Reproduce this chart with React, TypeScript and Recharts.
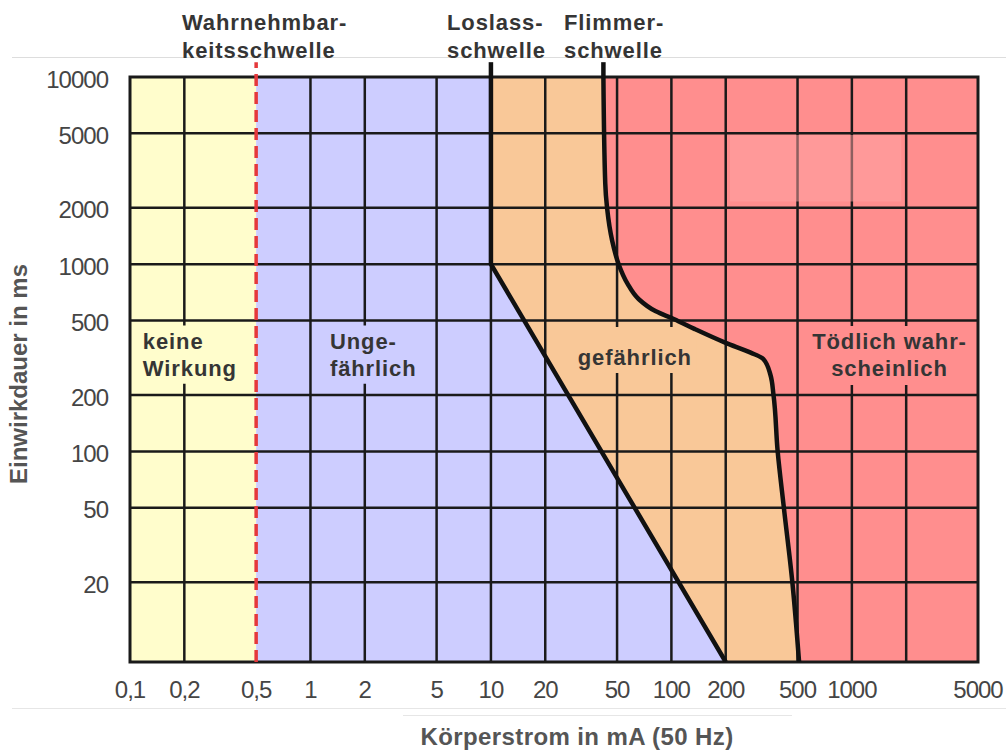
import { Area, ComposedChart, Line, ReferenceArea, ReferenceLine, XAxis, YAxis } from 'recharts';

const X_MIN = 0.1;
const X_MAX = 5000;
const Y_MIN = 7.5;
const Y_MAX = 10000;
// the threshold lines poke out a little above the plot
const Y_STUB = 12000;

const X_TICKS = [0.1, 0.2, 0.5, 1, 2, 5, 10, 20, 50, 100, 200, 500, 1000, 5000];
const Y_TICKS = [20, 50, 100, 200, 500, 1000, 2000, 5000, 10000];
const GRID_X = [0.2, 1, 2, 5, 10, 20, 50, 100, 200, 500, 1000, 2000];
const GRID_Y = [20, 50, 100, 200, 500, 1000, 2000, 5000];

// Wahrnehmbarkeitsschwelle (mA)
const PERCEPTION_MA = 0.5;

// Loslassschwelle
const LET_GO_MA = [10, 10, 200];
const LET_GO_MS = [10000, 1000, Y_MIN];

// Flimmerschwelle
const FIBRILLATION_MA = [42, 43, 44, 47, 51, 57, 66, 82, 103, 135, 200, 275, 323, 354, 368, 388, 420, 468, 510];
const FIBRILLATION_MS = [10000, 2700, 2000, 1330, 1000, 790, 650, 560, 510, 450, 380, 337, 312, 256, 200, 100, 50, 20, Y_MIN];

const letGo = LET_GO_MA.map((ma, i) => ({ ma, ms: LET_GO_MS[i] }));
const fibrillation = FIBRILLATION_MA.map((ma, i) => ({ ma, ms: FIBRILLATION_MS[i] }));

const FONT = '"Liberation Sans", Arial, Helvetica, sans-serif';
const YELLOW = '#FFFDCC';
const BLUE = '#CDCDFF';
const ORANGE = '#F9C898';
const RED = '#FF8E8E';
const INK = '#1a1a1a';

const labelStyle = { fontFamily: FONT, fontSize: 22, fontWeight: 700, fill: '#353535', letterSpacing: 0.9 };

const boxLabel = (lines: string[], anchor: 'start' | 'middle', dx: number, dy: number) => (props: any) => {
	const { x, y, width } = props.viewBox;
	const tx = anchor === 'middle' ? x + width / 2 : x + dx;
	return (
		<text x={tx} y={y + dy} textAnchor={anchor} style={labelStyle}>
			{lines.map((line, i) => (
				<tspan key={line} x={tx} dy={i === 0 ? 0 : 27}>
					{line}
				</tspan>
			))}
		</text>
	);
};

const tickStyle = { fill: '#454545', fontSize: 24, fontFamily: FONT, letterSpacing: -1 };

export default function App() {
	return (
		<div style={{ position: 'relative', width: 1006, height: 753, background: '#fff' }}>
			<style>{'body{margin:0}'}</style>
			<ComposedChart layout="vertical" width={1006} height={753} margin={{ top: 77, right: 28, bottom: 31, left: 20 }}>
				<XAxis
					type="number"
					scale="log"
					domain={[X_MIN, X_MAX]}
					allowDataOverflow
					ticks={X_TICKS}
					interval={0}
					tickFormatter={(v) => String(v).replace('.', ',')}
					axisLine={false}
					tickLine={false}
					tickSize={0}
					tickMargin={19}
					height={60}
					tick={tickStyle}
				/>
				<YAxis
					type="number"
					dataKey="ms"
					scale="log"
					domain={[Y_MIN, Y_MAX]}
					allowDataOverflow
					reversed
					ticks={Y_TICKS}
					interval={0}
					axisLine={false}
					tickLine={false}
					tickSize={0}
					tickMargin={22}
					width={110}
					tick={{ ...tickStyle, dy: 2 }}
				/>

				{/* zones */}
				<ReferenceArea x1={X_MIN} x2={PERCEPTION_MA} y1={Y_MIN} y2={Y_MAX} fill={YELLOW} fillOpacity={1} zIndex={10} />
				<ReferenceArea x1={PERCEPTION_MA} x2={X_MAX} y1={Y_MIN} y2={Y_MAX} fill={BLUE} fillOpacity={1} zIndex={10} />
				<Area
					data={letGo}
					dataKey={(d: any) => [d.ma, X_MAX]}
					type="linear"
					fill={ORANGE}
					fillOpacity={1}
					stroke="none"
					dot={false}
					activeDot={false}
					isAnimationActive={false}
					zIndex={20}
				/>
				<Area
					data={fibrillation}
					dataKey={(d: any) => [d.ma, X_MAX]}
					type="monotone"
					fill={RED}
					fillOpacity={1}
					stroke="none"
					dot={false}
					activeDot={false}
					isAnimationActive={false}
					zIndex={20}
				/>

				{/* grid */}
				{GRID_X.map((v) => (
					<ReferenceLine key={`gx${v}`} x={v} stroke={INK} strokeWidth={2.5} zIndex={30} />
				))}
				{GRID_Y.map((v) => (
					<ReferenceLine key={`gy${v}`} y={v} stroke={INK} strokeWidth={2.5} zIndex={30} />
				))}

				{/* zone labels on their own patches */}
				<ReferenceArea x1={0.105} x2={0.47} y1={230} y2={470} fill={YELLOW} fillOpacity={1} zIndex={40} label={boxLabel(['keine', 'Wirkung'], 'start', 9, 23)} />
				<ReferenceArea x1={1.1} x2={4.7} y1={230} y2={470} fill={BLUE} fillOpacity={1} zIndex={40} label={boxLabel(['Unge-', 'fährlich'], 'start', 12, 23)} />
				<ReferenceArea x1={28.5} x2={138} y1={262} y2={462} fill={ORANGE} fillOpacity={1} zIndex={40} label={boxLabel(['gefährlich'], 'middle', 0, 38)} />
				<ReferenceArea x1={557} x2={4690} y1={226} y2={468} fill={RED} fillOpacity={1} zIndex={40} label={boxLabel(['Tödlich wahr-', 'scheinlich'], 'middle', 0, 23)} />
				<ReferenceArea x1={211} x2={1880} y1={2160} y2={4900} fill="#FFA3A3" fillOpacity={0.5} zIndex={45} />

				<ReferenceArea x1={X_MIN} x2={X_MAX} y1={Y_MIN} y2={Y_MAX} fill="none" stroke={INK} strokeWidth={3} zIndex={50} />

				{/* thresholds */}
				<ReferenceLine
					segment={[{ x: PERCEPTION_MA, y: Y_MIN }, { x: PERCEPTION_MA, y: Y_STUB }]}
					stroke="#E5383B"
					strokeWidth={3.5}
					strokeDasharray="12 6"
					ifOverflow="visible"
					zIndex={60}
				/>
				<ReferenceLine segment={[{ x: LET_GO_MA[0], y: Y_MAX }, { x: LET_GO_MA[0], y: Y_STUB }]} stroke="#111" strokeWidth={4.5} ifOverflow="visible" zIndex={60} />
				<ReferenceLine segment={[{ x: FIBRILLATION_MA[0], y: Y_MAX }, { x: FIBRILLATION_MA[0], y: Y_STUB }]} stroke="#111" strokeWidth={4.5} ifOverflow="visible" zIndex={60} />
				<Line data={letGo} dataKey="ma" type="linear" stroke="#111" strokeWidth={4.5} dot={false} activeDot={false} isAnimationActive={false} zIndex={60} />
				<Line data={fibrillation} dataKey="ma" type="monotone" stroke="#111" strokeWidth={4.5} dot={false} activeDot={false} isAnimationActive={false} zIndex={60} />
			</ComposedChart>

			<svg width={1006} height={753} style={{ position: 'absolute', left: 0, top: 0, pointerEvents: 'none' }}>
				<line x1={12} y1={57.5} x2={1006} y2={57.5} stroke="#dddddd" />
				<line x1={12} y1={708.5} x2={1006} y2={708.5} stroke="#e6e6e6" />
				<line x1={403} y1={715.5} x2={792} y2={715.5} stroke="#e6e6e6" />
				<text style={labelStyle} x={182} y={30}>
					<tspan x={182}>Wahrnehmbar-</tspan>
					<tspan x={182} dy={28}>keitsschwelle</tspan>
				</text>
				<text style={labelStyle} x={447} y={30}>
					<tspan x={447}>Loslass-</tspan>
					<tspan x={447} dy={28}>schwelle</tspan>
				</text>
				<text style={labelStyle} x={564} y={30}>
					<tspan x={564}>Flimmer-</tspan>
					<tspan x={564} dy={28}>schwelle</tspan>
				</text>
				<text x={577} y={745} textAnchor="middle" style={{ fontFamily: FONT, fontSize: 24, fontWeight: 700, fill: '#555', letterSpacing: 0.4 }}>
					Körperstrom in mA (50 Hz)
				</text>
				<text transform="rotate(-90)" x={-374} y={27} textAnchor="middle" style={{ fontFamily: FONT, fontSize: 24, fontWeight: 700, fill: '#555' }}>
					Einwirkdauer in ms
				</text>
			</svg>
		</div>
	);
}
